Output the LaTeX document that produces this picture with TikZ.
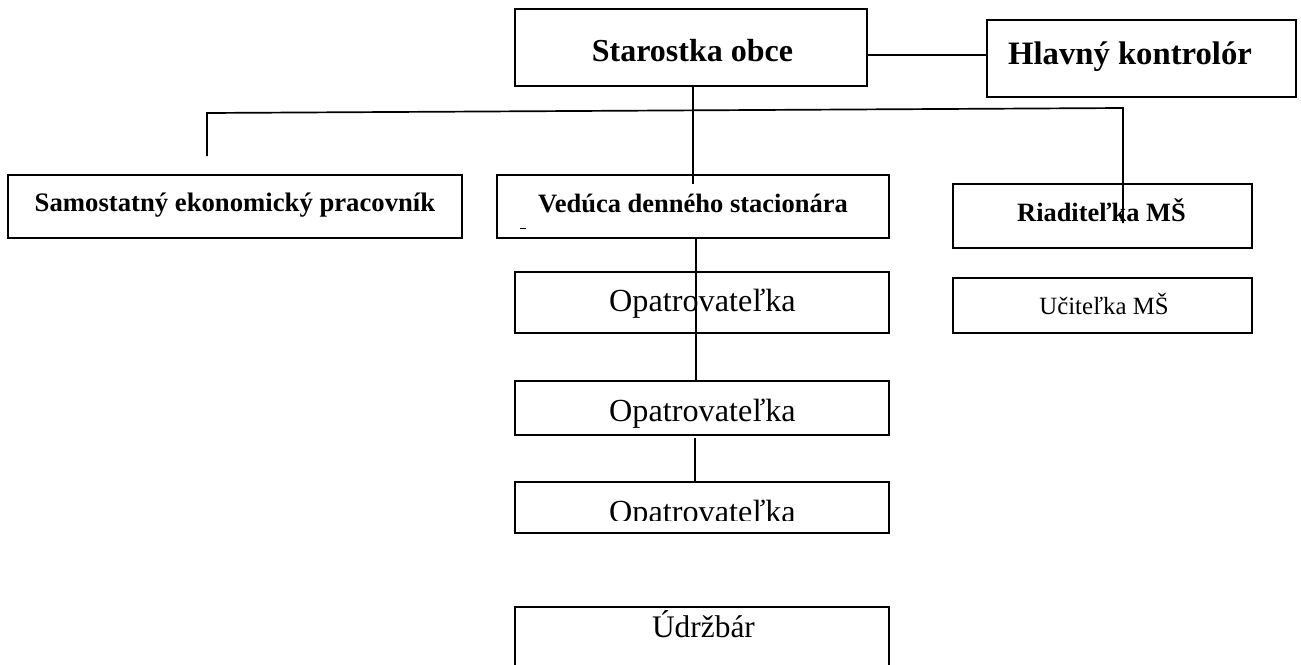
\documentclass[tikz,border=0pt]{standalone}
\usepackage{fontspec}
\setmainfont{Liberation Serif}
\usetikzlibrary{positioning}

\begin{document}
\begin{tikzpicture}
  [x=1pt,y=-1pt,
  box/.style={rectangle,draw=black,line width=2pt,inner sep=0pt,outer sep=0pt},
  lbl/.style={anchor=base,inner sep=0pt,outer sep=0pt},
  conn/.style={black,line width=1.7pt}]
  \clip (0,0) rectangle (1301,664);

  % boxes
  \node[box,minimum width=352pt,minimum height=77pt] (starostka) at (691,47.5) {};
  \node[box,minimum width=309pt,minimum height=77pt] (hlavny) at (1141.5,58.5) {};
  \node[box,minimum width=454pt,minimum height=63pt] (samostatny) at (235,206.5) {};
  \node[box,minimum width=392pt,minimum height=63pt] (veduca) at (693,206.5) {};
  \node[box,minimum width=299pt,minimum height=64pt] (riaditelka) at (1102.5,216) {};
  \node[box,minimum width=299pt,minimum height=55pt] (ucitelka) at (1102.5,305.5) {};
  \node[box,minimum width=374pt,minimum height=61pt] (opat1) at (702,302.5) {};
  \node[box,minimum width=374pt,minimum height=54pt] (opat2) at (702,408) {};
  \node[box,minimum width=374pt,minimum height=51pt] (opat3) at (702,507.5) {};
  \node[box,minimum width=374pt,minimum height=100pt] (udrzbar) at (702,657) {};

  % texts
  \node[lbl,font=\fontsize{32}{38}\selectfont\bfseries] (tstarostka) at (692.5,61) {Starostka obce};
  \node[lbl,font=\fontsize{32.7}{38}\selectfont\bfseries] (thlavny) at (1130,64) {Hlavný kontrolór};
  \node[lbl,font=\fontsize{26.7}{32}\selectfont\bfseries] (tsamostatny) at (235,211) {Samostatný ekonomický pracovník};
  \node[lbl,font=\fontsize{26.5}{32}\selectfont\bfseries] (tveduca) at (693,212) {Vedúca denného stacionára};
  \node[lbl,font=\fontsize{26.4}{32}\selectfont\bfseries] (triaditelka) at (1101.5,221) {Riaditeľka MŠ};
  \node[lbl,font=\fontsize{24.8}{30}\selectfont] (tucitelka) at (1104,314) {Učiteľka MŠ};
  \node[lbl,font=\fontsize{32.2}{38}\selectfont] (topat1) at (702.5,311) {Opatrovateľka};
  \node[lbl,font=\fontsize{32.2}{38}\selectfont] (topat2) at (702.5,421) {Opatrovateľka};
  \begin{scope}
    \clip (515,482) rectangle (889,520);
    \node[lbl,font=\fontsize{32.2}{38}\selectfont] (topat3) at (702.5,522) {Opatrovateľka};
  \end{scope}
  \node[lbl,font=\fontsize{31.4}{38}\selectfont] (tudrzbar) at (703.5,637) {Údržbár};
  \draw [line width=1pt] (520,228) -- (526,228);

  % connectors
  \coordinate (busL) at (207,113);
  \coordinate (busR) at (1123,108);
  \coordinate (busLend) at (207,156);
  \coordinate (busRend) at (1123,223);
  \draw [conn] ([yshift=-7.5pt]starostka.east) -- ([yshift=3.5pt]hlavny.west);
  \draw [conn] ([xshift=2pt]starostka.south) -- ([yshift=-9pt]veduca.north);
  \draw [conn] (busLend) -- (busL) -- (busR) -- (busRend);
  \draw [conn] ([xshift=3pt]veduca.south) -- ([xshift=-6pt]opat2.north);
  \draw [conn] ([xshift=-7pt,yshift=-3pt]opat2.south) -- ([xshift=-7pt]opat3.north);
\end{tikzpicture}
\end{document}
